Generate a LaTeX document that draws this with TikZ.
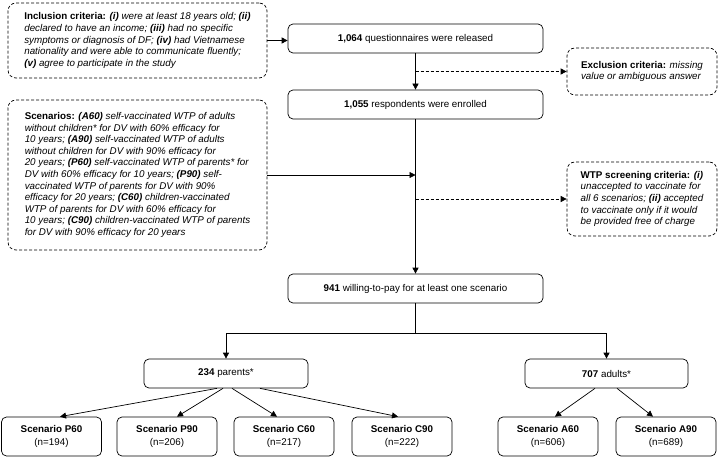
\documentclass[tikz,border=0pt]{standalone}
\usepackage{fontspec}
\setmainfont{Liberation Sans}
\usetikzlibrary{arrows.meta,calc}
\newcommand{\crit}[1]{\textbf{\textit{#1}}}

\begin{document}
\begin{tikzpicture}[x=1pt,y=-1pt,
    font=\fontsize{9.8}{11.6}\selectfont,
    box/.style={draw,line width=0.7pt,rounded corners=5pt,align=center,inner sep=0pt,minimum height=29pt},
    scenbox/.style={box,minimum width=100pt,minimum height=39pt},
    note/.style={draw,line width=0.7pt,dash pattern=on 3pt off 2pt,rounded corners=8pt,align=left,inner sep=0pt,font=\fontsize{9.8}{11.6}\selectfont\itshape},
    arr/.style={-{Triangle[length=6pt,width=6pt]},line width=0.7pt},
    darr/.style={arr,dash pattern=on 3pt off 2pt}]
    \useasboundingbox (0,0) rectangle (723,457);

    \node[note,minimum width=259pt,minimum height=75pt] (incl) at (137.5,40.5)
        {\textbf{\upshape Inclusion criteria:} \crit{(i)} were at least 18 years old; \crit{(ii)}\\
        declared to have an income; \crit{(iii)} had no specific\\
        symptoms or diagnosis of DF; \crit{(iv)} had Vietnamese\\
        nationality and were able to communicate fluently;\\
        \crit{(v)} agree to participate in the study};
    \node[note,minimum width=259pt,minimum height=150pt] (scen) at (137.5,175)
        {\textbf{\upshape Scenarios:} \crit{(A60)} self-vaccinated WTP of adults\\
        without children* for DV with 60\% efficacy for\\
        10 years; \crit{(A90)} self-vaccinated WTP of adults\\
        without children for DV with 90\% efficacy for\\
        20 years; \crit{(P60)} self-vaccinated WTP of parents* for\\
        DV with 60\% efficacy for 10 years; \crit{(P90)} self-\\
        vaccinated WTP of parents for DV with 90\%\\
        efficacy for 20 years; \crit{(C60)} children-vaccinated\\
        WTP of parents for DV with 60\% efficacy for\\
        10 years; \crit{(C90)} children-vaccinated WTP of parents\\
        for DV with 90\% efficacy for 20 years};

    \node[box,minimum width=255pt] (rel) at (415.5,38.5) {\textbf{1,064} questionnaires were released};
    \node[box,minimum width=255pt] (enr) at (415.5,104.5) {\textbf{1,055} respondents were enrolled};
    \node[box,minimum width=255pt] (will) at (415.5,288.5) {\textbf{941} willing-to-pay for at least one scenario};

    \node[note,minimum width=150pt,minimum height=47pt] (excl) at (642,71.5)
        {\textbf{\upshape Exclusion criteria:} missing\\
        value or ambiguous answer};
    \node[note,minimum width=150pt,minimum height=74pt] (wtp) at (642,199)
        {\textbf{\upshape WTP screening criteria:} \crit{(i)}\\
        unaccepted to vaccinate for\\
        all 6 scenarios; \crit{(ii)} accepted\\
        to vaccinate only if it would\\
        be provided free of charge};

    \node[box,minimum width=164pt] (par) at (226,373.5) {\textbf{234} parents*};
    \node[box,minimum width=163pt] (adu) at (606.5,373.5) {\textbf{707} adults*};

    \node[scenbox] (p60) at (51.5,436.5) {\textbf{Scenario P60}\\[1pt](n=194)};
    \node[scenbox] (p90) at (167,436.5) {\textbf{Scenario P90}\\[1pt](n=206)};
    \node[scenbox] (c60) at (284,436.5) {\textbf{Scenario C60}\\[1pt](n=217)};
    \node[scenbox] (c90) at (402,436.5) {\textbf{Scenario C90}\\[1pt](n=222)};
    \node[scenbox] (a60) at (548,436.5) {\textbf{Scenario A60}\\[1pt](n=606)};
    \node[scenbox] (a90) at (666,436.5) {\textbf{Scenario A90}\\[1pt](n=689)};

    \draw[arr] (incl.east) -- (incl.east -| rel.west);
    \draw[arr] (rel.south) -- (enr.north);
    \draw[darr] (rel.south |- excl.west) -- (excl.west);
    \draw[arr] (enr.south) -- (will.north);
    \draw[arr] (scen.east) -- (scen.east -| enr.south);
    \draw[darr] (enr.south |- wtp.west) -- (wtp.west);

    \coordinate (split) at (415.5,333);
    \draw[line width=0.7pt] (will.south) -- (split);
    \draw[arr] (split) -| (par.north);
    \draw[arr] (split) -| (adu.north);

    \draw[arr] ($(par.south)+(-9,0)$) -- ($(p60.north)+(8.5,0)$);
    \draw[arr] ($(par.south)+(-3,0)$) -- ($(p90.north)+(10,0)$);
    \draw[arr] ($(par.south)+(6,0)$) -- ($(c60.north)+(-7,0)$);
    \draw[arr] ($(par.south)+(34,0)$) -- ($(c90.north)+(-4,0)$);
    \draw[arr] ($(adu.south)+(-11.5,0)$) -- ($(a60.north)+(7,0)$);
    \draw[arr] ($(adu.south)+(10.5,0)$) -- ($(a90.north)+(-13,0)$);
\end{tikzpicture}
\end{document}
